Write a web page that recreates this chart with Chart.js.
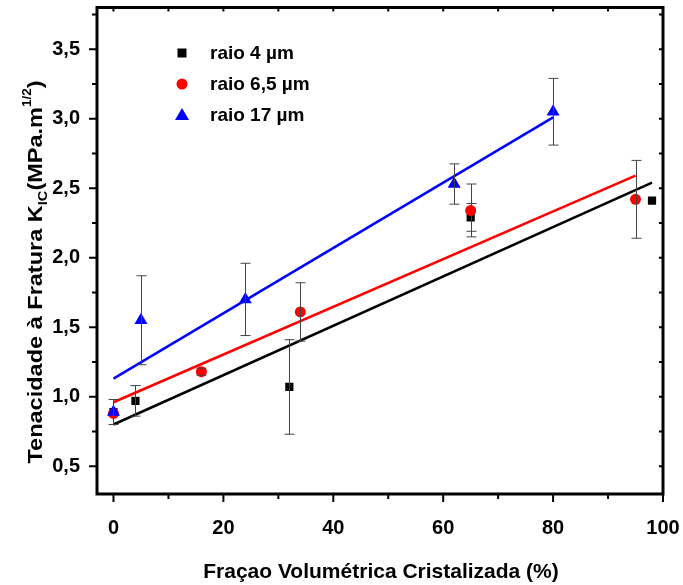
<!DOCTYPE html>
<html>
<head>
<meta charset="utf-8">
<script src="https://cdn.jsdelivr.net/npm/chart.js@4.4.1/dist/chart.umd.min.js"></script>
<style>
html, body { margin: 0; padding: 0; background: #fff; }
</style>
</head>
<body>
<canvas id="kicChart" width="683" height="585"></canvas>
<script>
// raio 4 um
const fracao4 = [0, 4, 32, 65, 98];
const kic4 = [0.89, 0.97, 1.07, 2.29, 2.41];
const erro4 = [0.09, 0.11, 0.34, 0.10, 0];

// raio 6,5 um
const fracao65 = [0, 16, 34, 65, 95];
const kic65 = [0.88, 1.18, 1.61, 2.34, 2.42];
const erro65 = [0, 0.025, 0.21, 0.19, 0.28];

// raio 17 um
const fracao17 = [0, 5, 24, 62, 80];
const kic17 = [0.89, 1.55, 1.70, 2.53, 3.05];
const erro17 = [0, 0.32, 0.26, 0.145, 0.24];

// linear fits (end points)
const ajuste4X = [0, 98];
const ajuste4Y = [0.80, 2.54];
const ajuste65X = [0, 95];
const ajuste65Y = [0.96, 2.59];
const ajuste17X = [0, 80];
const ajuste17Y = [1.13, 3.01];

const legendas = ['raio 4 \u00b5m', 'raio 6,5 \u00b5m', 'raio 17 \u00b5m'];

const xTicks = [0, 20, 40, 60, 80, 100];
const xTickLabels = ['0', '20', '40', '60', '80', '100'];
const yTicks = [0.5, 1.0, 1.5, 2.0, 2.5, 3.0, 3.5];
const yTickLabels = ['0,5', '1,0', '1,5', '2,0', '2,5', '3,0', '3,5'];

const FONTE = "'Liberation Sans', Arial, sans-serif";

function pontos(xs, ys) {
    return xs.map((x, i) => ({ x: x, y: ys[i] }));
}

// error bars drawn over the markers, like the original
const barrasErro = {
    id: 'barrasErro',
    afterDatasetsDraw(chart) {
        const ctx = chart.ctx;
        const xs = chart.scales.x, ys = chart.scales.y;
        const series = [[fracao4, kic4, erro4], [fracao65, kic65, erro65], [fracao17, kic17, erro17]];
        ctx.save();
        ctx.strokeStyle = '#444';
        ctx.lineWidth = 1;
        series.forEach(([fx, fy, fe]) => {
            fx.forEach((v, i) => {
                if (!fe[i]) return;
                const px = Math.round(xs.getPixelForValue(v)) + 0.5;
                const top = ys.getPixelForValue(fy[i] + fe[i]);
                const bot = ys.getPixelForValue(fy[i] - fe[i]);
                ctx.beginPath();
                ctx.moveTo(px, top); ctx.lineTo(px, bot);
                ctx.moveTo(px - 5, top); ctx.lineTo(px + 5, top);
                ctx.moveTo(px - 5, bot); ctx.lineTo(px + 5, bot);
                ctx.stroke();
            });
        });
        ctx.restore();
    }
};

function marcador(ctx, tipo, x, y, cor) {
    ctx.fillStyle = cor;
    ctx.beginPath();
    if (tipo === 'rect') {
        ctx.rect(x - 4.5, y - 4.5, 9, 9);
    } else if (tipo === 'circle') {
        ctx.arc(x, y, 5.5, 0, Math.PI * 2);
    } else {
        ctx.moveTo(x, y - 7);
        ctx.lineTo(x + 7, y + 5);
        ctx.lineTo(x - 7, y + 5);
        ctx.closePath();
    }
    ctx.fill();
}

const moldura = {
    id: 'moldura',
    afterDraw(chart) {
        const ctx = chart.ctx;
        const a = chart.chartArea;
        const xs = chart.scales.x, ys = chart.scales.y;
        ctx.save();

        // ticks
        ctx.strokeStyle = '#000';
        ctx.lineWidth = 2;
        ctx.beginPath();
        for (let v = 0; v <= 100; v += 10) {
            const px = xs.getPixelForValue(v);
            const major = v % 20 === 0;
            ctx.moveTo(px, a.bottom); ctx.lineTo(px, a.bottom + (major ? 8 : 5));
            ctx.moveTo(px, a.top); ctx.lineTo(px, a.top + 4);
        }
        for (let v = 0.5; v <= 3.76; v += 0.25) {
            const py = ys.getPixelForValue(v);
            const major = Math.abs(v * 2 - Math.round(v * 2)) < 1e-6;
            ctx.moveTo(a.left, py); ctx.lineTo(a.left - (major ? 8 : 5), py);
            ctx.moveTo(a.right, py); ctx.lineTo(a.right - 4, py);
        }
        ctx.stroke();

        // frame
        ctx.lineWidth = 3;
        ctx.strokeRect(a.left, a.top, a.right - a.left, a.bottom - a.top);

        // legend
        const cores = ['#000000', '#ff0000', '#0000ff'];
        const tipos = ['rect', 'circle', 'triangle'];
        const linhas = [53, 84, 115];
        ctx.font = 'bold 19px ' + FONTE;
        ctx.textBaseline = 'middle';
        ctx.textAlign = 'left';
        legendas.forEach((t, i) => {
            marcador(ctx, tipos[i], 182, linhas[i], cores[i]);
            ctx.fillStyle = '#000';
            ctx.fillText(t, 210, linhas[i] + 1);
        });

        // x title
        ctx.font = 'bold 21px ' + FONTE;
        ctx.textAlign = 'center';
        ctx.textBaseline = 'alphabetic';
        ctx.fillText('Fra\u00e7ao Volum\u00e9trica Cristalizada (%)', 381, 578);

        // y title with subscript and superscript
        const partes = [
            { t: 'Tenacidade \u00e0 Fratura K', s: 21, dy: 0 },
            { t: 'IC', s: 13, dy: 5 },
            { t: '(MPa.m', s: 21, dy: 0 },
            { t: '1/2', s: 12, dy: -11 },
            { t: ')', s: 21, dy: 0 }
        ];
        let total = 0;
        partes.forEach(p => { ctx.font = 'bold ' + p.s + 'px ' + FONTE; p.w = ctx.measureText(p.t).width; total += p.w; });
        ctx.translate(42, 272);
        ctx.rotate(-Math.PI / 2);
        ctx.scale(1.12, 1);
        ctx.textAlign = 'left';
        let cx = -total / 2;
        partes.forEach(p => {
            ctx.font = 'bold ' + p.s + 'px ' + FONTE;
            ctx.fillText(p.t, cx, p.dy);
            cx += p.w;
        });
        ctx.restore();
    }
};

function semMargem(s) {
    s.paddingTop = 0;
    s.paddingBottom = 0;
    s.paddingLeft = 0;
    s.paddingRight = 0;
}

const ctx = document.getElementById('kicChart').getContext('2d');
new Chart(ctx, {
    type: 'scatter',
    data: {
        datasets: [
            { label: legendas[2], data: pontos(fracao17, kic17), pointStyle: 'triangle', pointRadius: 7.5, backgroundColor: '#0000ff', borderWidth: 0, order: 1 },
            { label: legendas[1], data: pontos(fracao65, kic65), pointStyle: 'circle', pointRadius: 5.5, backgroundColor: '#ff0000', borderWidth: 0, order: 2 },
            { label: legendas[0], data: pontos(fracao4, kic4), pointStyle: 'rect', pointRadius: 5.8, backgroundColor: '#000000', borderWidth: 0, order: 3 },
            { type: 'line', data: pontos(ajuste17X, ajuste17Y), borderColor: '#0000ff', borderWidth: 2.5, pointRadius: 0, fill: false, order: 4 },
            { type: 'line', data: pontos(ajuste65X, ajuste65Y), borderColor: '#ff0000', borderWidth: 2.5, pointRadius: 0, fill: false, order: 5 },
            { type: 'line', data: pontos(ajuste4X, ajuste4Y), borderColor: '#000000', borderWidth: 2.5, pointRadius: 0, fill: false, order: 6 }
        ]
    },
    options: {
        responsive: false,
        animation: false,
        devicePixelRatio: 1,
        layout: { padding: { top: 5, right: 20, left: 0, bottom: 0 } },
        plugins: {
            legend: { display: false },
            tooltip: { enabled: false }
        },
        scales: {
            x: {
                type: 'linear',
                min: -3,
                max: 100,
                afterBuildTicks: s => { s.ticks = xTicks.map(v => ({ value: v })); },
                afterFit: s => { s.height = 91; semMargem(s); },
                grid: { display: false, drawTicks: false },
                border: { display: false },
                ticks: {
                    autoSkip: false,
                    maxRotation: 0,
                    padding: 22,
                    color: '#000',
                    font: { family: FONTE, size: 20, weight: 'bold' },
                    callback: v => xTickLabels[xTicks.indexOf(v)]
                }
            },
            y: {
                type: 'linear',
                min: 0.3,
                max: 3.8,
                afterBuildTicks: s => { s.ticks = yTicks.map(v => ({ value: v })); },
                afterFit: s => { s.width = 97; semMargem(s); },
                grid: { display: false, drawTicks: false },
                border: { display: false },
                ticks: {
                    autoSkip: false,
                    padding: 17,
                    color: '#000',
                    font: { family: FONTE, size: 20, weight: 'bold' },
                    callback: v => yTickLabels[yTicks.indexOf(v)]
                }
            }
        }
    },
    plugins: [barrasErro, moldura]
});
</script>
</body>
</html>
